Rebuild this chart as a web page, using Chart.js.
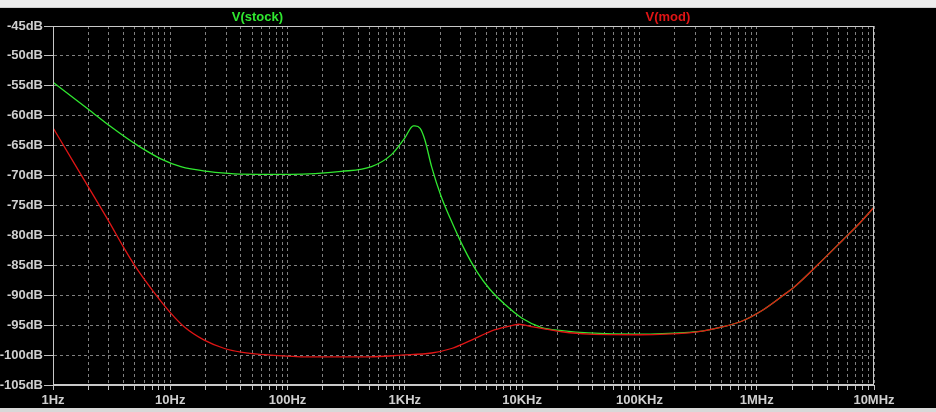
<!DOCTYPE html>
<html>
<head>
<meta charset="utf-8">
<script src="https://cdn.jsdelivr.net/npm/chart.js@4/dist/chart.umd.min.js"></script>
<style>
  html, body { margin: 0; padding: 0; background: #000; overflow: hidden; }
  #wrap { position: absolute; left: 0; top: 0; width: 936px; height: 412px; }
  .bar-top { position: absolute; left: 0; top: 0; width: 936px; height: 8px; background: #ededed; border-bottom: 1px solid #cfcfcf; box-sizing: border-box; }
  .bar-bottom { position: absolute; left: 0; top: 408px; width: 936px; height: 4px; background: #d8d8d8; }
</style>
</head>
<body>
<div id="wrap"><canvas id="bode" width="936" height="412"></canvas></div>
<div class="bar-top"></div>
<div class="bar-bottom"></div>
<script>
// series names as shown above the plot
const seriesNames = ['V(stock)', 'V(mod)'];

// frequency tick labels, one per decade 1Hz .. 10MHz
const freqLabels = ['1Hz', '10Hz', '100Hz', '1KHz', '10KHz', '100KHz', '1MHz', '10MHz'];

// V(stock)
const stockFreq = [1, 2, 3.1, 5.3, 8.3, 12.3, 20.9, 35, 107, 288, 519, 769, 1000, 1180, 1220, 1350, 1480, 1690,
  2040, 2430, 3160, 4100, 5300, 7200, 9900, 14700, 21800, 36900, 100000, 264000, 343000, 509000, 753000,
  1120000, 1660000, 2150000, 3300000, 5400000, 7500000, 10000000];
const stockDb = [-54.4, -58.9, -61.8, -65.0, -67.2, -68.5, -69.3, -69.7, -69.8, -69.3, -68.5, -66.5, -63.7, -61.7, -61.7, -62.1, -64.0, -68.5,
  -73.5, -77.1, -82.0, -86.0, -89.0, -91.6, -93.8, -95.4, -95.9, -96.3, -96.5, -96.2, -96.0, -95.3, -94.3,
  -92.5, -90.1, -88.4, -84.95, -80.8, -78.0, -75.3];

// V(mod)
const modFreq = [1, 1.5, 2, 3, 4, 5, 7, 10, 13.2, 19.5, 29, 40, 72, 150, 500, 937, 1690,
  2500, 3700, 5800, 8400, 9300, 12400, 14700, 21800, 36900, 100000, 264000, 343000, 509000, 753000,
  1120000, 1660000, 2150000, 3300000, 5400000, 7500000, 10000000];
const modDb = [-62.0, -67.8, -71.9, -77.7, -82.0, -85.1, -89.1, -92.9, -95.3, -97.5, -98.9, -99.5, -100.0, -100.3, -100.3, -100.0, -99.65,
  -98.9, -97.5, -95.8, -95.0, -94.85, -95.3, -95.55, -96.1, -96.5, -96.6, -96.3, -96.0, -95.3, -94.3,
  -92.5, -90.1, -88.4, -84.95, -80.8, -78.0, -75.3];

const toPoints = (xs, ys) => xs.map((x, i) => ({ x: x, y: ys[i] }));

const gridColor = 'rgba(150,150,150,0.85)';
const textColor = '#cfcfcf';
const labelFont = { family: '"Liberation Sans", Arial, sans-serif', size: 13, weight: 'bold' };

const framePlugin = {
  id: 'frame',
  afterDraw(chart) {
    const { ctx, chartArea: a } = chart;
    ctx.save();
    ctx.strokeStyle = '#c8c8c8';
    ctx.lineWidth = 1;
    ctx.strokeRect(Math.round(a.left) + 0.5, Math.round(a.top) + 0.5,
      Math.round(a.right - a.left) - 1, Math.round(a.bottom - a.top) - 1);

    ctx.font = 'bold 13px "Liberation Sans", Arial, sans-serif';
    ctx.textAlign = 'center';
    ctx.textBaseline = 'middle';
    const w = a.right - a.left;
    ctx.fillStyle = '#30e830';
    ctx.fillText(seriesNames[0], a.left + w * 0.249, a.top - 9);
    ctx.fillStyle = '#e01515';
    ctx.fillText(seriesNames[1], a.left + w * 0.749, a.top - 9);
    ctx.restore();
  }
};

new Chart(document.getElementById('bode'), {
  type: 'line',
  data: {
    datasets: [
      {
        label: seriesNames[0],
        data: toPoints(stockFreq, stockDb),
        borderColor: '#30e830',
        borderWidth: 1.3,
        pointRadius: 0,
        cubicInterpolationMode: 'monotone',
        order: 1
      },
      {
        label: seriesNames[1],
        data: toPoints(modFreq, modDb),
        borderColor: '#e01515',
        borderWidth: 1.3,
        pointRadius: 0,
        cubicInterpolationMode: 'monotone',
        order: 0
      }
    ]
  },
  options: {
    responsive: false,
    animation: false,
    layout: { padding: { top: 26, right: 62, bottom: 0, left: 0 } },
    plugins: {
      legend: { display: false },
      tooltip: { enabled: false }
    },
    scales: {
      x: {
        type: 'logarithmic',
        min: 1,
        max: 10000000,
        afterBuildTicks(scale) {
          const ticks = [];
          for (let e = 0; e <= 7; e++) {
            for (let m = 1; m <= 9; m++) {
              const v = m * Math.pow(10, e);
              if (v <= 10000000) ticks.push({ value: v });
            }
          }
          scale.ticks = ticks;
        },
        afterFit(scale) { scale.height = 27; },
        grid: {
          color: gridColor,
          tickColor: '#c0c0c0',
          tickLength: 5,
          tickBorderDash: []
        },
        border: { color: '#c8c8c8', dash: [3, 3] },
        ticks: {
          autoSkip: false,
          maxRotation: 0,
          padding: 3,
          color: textColor,
          font: labelFont,
          callback(value) {
            const k = Math.round(Math.log10(value));
            return Math.abs(value - Math.pow(10, k)) < 1e-6 * value ? freqLabels[k] : '';
          }
        }
      },
      y: {
        min: -105,
        max: -45,
        afterFit(scale) { scale.width = 53; },
        grid: {
          color: gridColor,
          tickColor: '#c0c0c0',
          tickLength: 9,
          tickBorderDash: []
        },
        border: { color: '#c8c8c8', dash: [3, 3] },
        ticks: {
          stepSize: 5,
          padding: 1,
          color: textColor,
          font: labelFont,
          callback: (v) => v + 'dB'
        }
      }
    }
  },
  plugins: [framePlugin]
});
</script>
</body>
</html>
